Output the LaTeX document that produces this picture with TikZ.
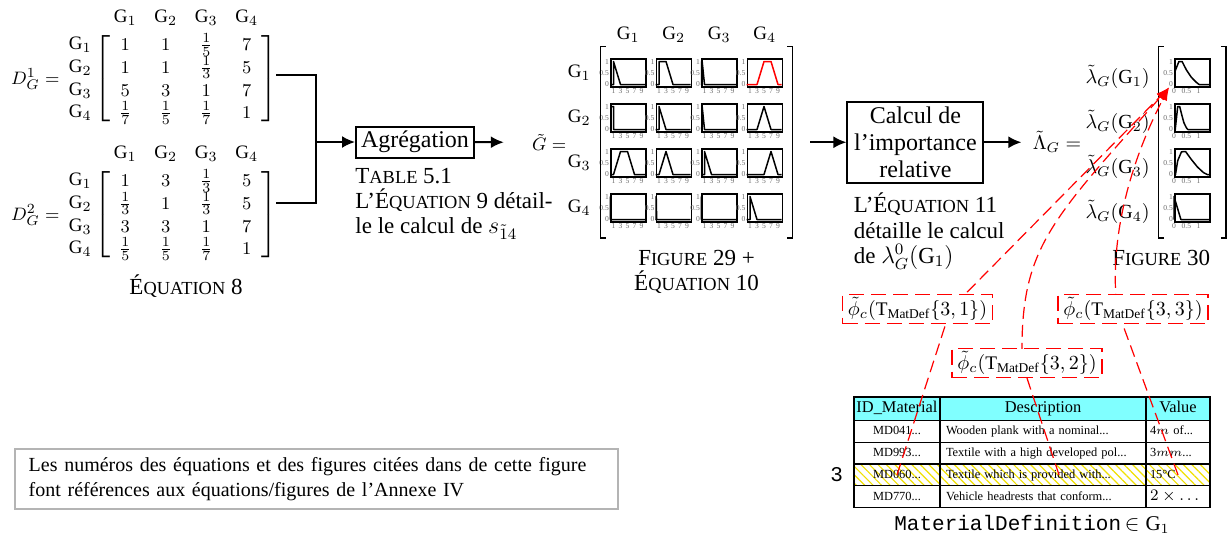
\documentclass[tikz,border=0pt]{standalone}
\usepackage{amsmath}
\usepackage{fontspec}
\setmainfont{Liberation Serif}
\setmonofont{Liberation Mono}
\usetikzlibrary{positioning,arrows.meta,matrix,fit,patterns.meta}
\definecolor{cyantab}{HTML}{80FFFF}
\definecolor{grisnote}{HTML}{B4B4B4}
\definecolor{grisgrad}{HTML}{6E6E6E}
\definecolor{jaunehach}{HTML}{F0E000}
\pgfdeclarelayer{avant}
\pgfsetlayers{main,avant}
\newcommand{\pcap}[1]{\scalebox{0.8}{#1}}
% petit graphe flou : [couleur]{nom}{coin haut gauche}{unite x}{graduations x}{points}
\newcommand{\minifloue}[6][black]{%
  \node[cadre, anchor=north west] (#2) at (#3) {};
  \begin{scope}[shift={([yshift=1.5pt]#2.south west)}, x=#4, y=11.5pt]
    \draw[courbe, draw=#1] plot coordinates {#6};
    \foreach \gx in {#5} {\node[grad, anchor=north] at (\gx,-0.13) {\gx};}
    \foreach \gy in {0,0.5,1} {\node[grad, anchor=east] at (0,\gy) {\gy};}
  \end{scope}}

\begin{document}
\begin{tikzpicture}[
      x=0.5pt, y=-0.5pt,
      font=\fontsize{11.5}{12.5}\selectfont,
      boite/.style={draw, line width=1pt, inner sep=2pt, align=center,
                    font=\fontsize{12}{13.3}\selectfont},
      f/.style={-{Latex[length=6.5pt,width=6pt]}, line width=1pt},
      trait/.style={line width=1pt},
      etiq/.style={inner sep=1pt, font=\fontsize{9.5}{11}\selectfont},
      legende/.style={inner sep=0pt, align=left, font=\fontsize{11.5}{12.6}\selectfont},
      every left delimiter/.style={xshift=4pt},
      every right delimiter/.style={xshift=-4pt},
      matd/.style={matrix of math nodes, left delimiter={[}, right delimiter={]},
                   inner sep=0pt, font=\fontsize{9.5}{11}\selectfont,
                   column sep=0pt, row sep=0pt,
                   nodes={minimum width=20.25pt, minimum height=11.35pt,
                          inner sep=0pt, anchor=center}},
      cadre/.style={draw, line width=0.75pt, minimum width=17.5pt, minimum height=14pt,
                    inner sep=0pt},
      courbe/.style={line width=0.75pt, line join=round},
      grad/.style={inner sep=0.4pt, text=grisgrad, font=\fontsize{3.8}{4}\selectfont},
      crochet/.style={line width=0.6pt},
      cellule/.style={draw, line width=0.6pt, minimum height=10.9pt, inner ysep=0pt,
                      outer sep=0pt, text height=5pt, text depth=1.5pt,
                      anchor=center, font=\fontsize{6.2}{7}\selectfont},
      entete/.style={fill=cyantab, align=center, minimum height=11.7pt,
                     text height=6pt, text depth=2pt, font=\fontsize{8.2}{9}\selectfont},
      hachure/.style={pattern={Lines[angle=-45, distance=3pt, line width=0.6pt]},
                      pattern color=jaunehach},
      phi/.style={draw=red, fill=white, line width=0.6pt, dash pattern=on 7.5pt off 3.5pt,
                  minimum width=75pt, minimum height=14.5pt, inner sep=1pt,
                  font=\fontsize{9.6}{10}\selectfont},
      lien/.style={draw=red, line width=0.6pt, dash pattern=on 6pt off 3pt,
                   -{Latex[length=6.5pt,width=4.5pt]}},
      note/.style={draw=grisnote, line width=0.75pt, align=left, text width=287.5pt,
                   minimum height=30pt, inner xsep=7pt, font=\fontsize{10}{12.5}\selectfont},
    ]
    \useasboundingbox (0,0) rectangle (1231,537);

    % =============== MATRICES DE COMPARAISON ==============================
    \matrix (d1) [matd] at (186,79) {
      1 & 1 & \frac15 & 7 \\
      1 & 1 & \frac13 & 5 \\
      5 & 3 & 1 & 7 \\
      \frac17 & \frac15 & \frac17 & 1 \\
    };
    \matrix (d2) [matd] at (186,215) {
      1 & 3 & \frac13 & 5 \\
      \frac13 & 1 & \frac13 & 5 \\
      3 & 3 & 1 & 7 \\
      \frac15 & \frac15 & \frac17 & 1 \\
    };
    \foreach \m in {d1,d2} {
      \foreach \i in {1,...,4} {
        \node[etiq] at ([yshift=13.5pt]\m-1-\i.center) {$\mathrm{G}_\i$};
        \node[etiq] at ([xshift=-22.5pt]\m-\i-1.center) {$\mathrm{G}_\i$};
      }
    }
    \node[etiq, anchor=east] (nd1) at ([xshift=-21.4pt]d1.west) {$D_G^1 =$};
    \node[etiq, anchor=east] (nd2) at ([xshift=-21.4pt]d2.west) {$D_G^2 =$};
    \node[legende, below=7pt of d2] (eq8) {É\pcap{QUATION} 8};

    % =============== AGREGATION ==========================================
    \node[boite, minimum width=59pt, minimum height=15.5pt] (agreg) at (415,142) {Agrégation};
    \node[legende, anchor=north west] (legagreg) at ([yshift=-4.5pt]agreg.south west)
      {T\pcap{ABLE} 5.1\\L’É\pcap{QUATION} 9 détail-\\le le calcul de $s_{\tilde{1}4}$};
    \coordinate[left=19.5pt of agreg.west] (jonc);
    \draw[trait] ([shift={(4.5pt,2pt)}]d1.east) -| (jonc) |- ([shift={(4.5pt,6pt)}]d2.east);
    \draw[f] (jonc) -- (agreg);

    % =============== MATRICE FLOUE AGREGEE ===============================
    \minifloue{g11}{610,58}{1.75pt}{1,3,5,7,9}{(0,0) (1,0) (1,1) (3,0) (10,0)}
    \minifloue{g12}{655.5,58}{1.75pt}{1,3,5,7,9}{(0,0) (1,0) (1,1) (3,1) (5,0) (10,0)}
    \minifloue{g13}{701,58}{1.75pt}{1,3,5,7,9}{(0,0) (0.14,0) (0.2,1) (0.33,1) (1,0) (10,0)}
    \minifloue[red]{g14}{746.5,58}{1.75pt}{1,3,5,7,9}{(0,0) (3,0) (5,1) (7,1) (9,0) (10,0)}
    \minifloue{g21}{610,103}{1.75pt}{1,3,5,7,9}{(0,0) (0.2,0) (0.33,1) (1,1) (1,0) (10,0)}
    \minifloue{g22}{655.5,103}{1.75pt}{1,3,5,7,9}{(0,0) (1,0) (1,1) (3,0) (10,0)}
    \minifloue{g23}{701,103}{1.75pt}{1,3,5,7,9}{(0,0) (0.2,0) (0.33,1) (1,0) (10,0)}
    \minifloue{g24}{746.5,103}{1.75pt}{1,3,5,7,9}{(0,0) (3,0) (5,1) (7,0) (10,0)}
    \minifloue{g31}{610,148}{1.75pt}{1,3,5,7,9}{(0,0) (1,0) (3,1) (5,1) (7,0) (10,0)}
    \minifloue{g32}{655.5,148}{1.75pt}{1,3,5,7,9}{(0,0) (1,0) (3,1) (5,0) (10,0)}
    \minifloue{g33}{701,148}{1.75pt}{1,3,5,7,9}{(0,0) (1,0) (1,1) (3,0) (10,0)}
    \minifloue{g34}{746.5,148}{1.75pt}{1,3,5,7,9}{(0,0) (5,0) (7,1) (9,0) (10,0)}
    \minifloue{g41}{610,193}{1.75pt}{1,3,5,7,9}{(0,0) (0.11,0) (0.14,1) (0.2,1) (0.33,0) (10,0)}
    \minifloue{g42}{655.5,193}{1.75pt}{1,3,5,7,9}{(0,0) (0.14,0) (0.2,1) (0.33,0) (10,0)}
    \minifloue{g43}{701,193}{1.75pt}{1,3,5,7,9}{(0,0) (0.11,0) (0.14,1) (0.2,0) (10,0)}
    \minifloue{g44}{746.5,193}{1.75pt}{1,3,5,7,9}{(0,0) (1,0) (1,1) (3,0) (10,0)}

    \node[fit=(g11)(g44), inner xsep=4.5pt, inner ysep=6.5pt, yshift=-1pt] (gmat) {};
    \draw[crochet] ([xshift=2.5pt]gmat.north west) -- (gmat.north west)
      -- (gmat.south west) -- ([xshift=2.5pt]gmat.south west);
    \draw[crochet] ([xshift=-2.5pt]gmat.north east) -- (gmat.north east)
      -- (gmat.south east) -- ([xshift=-2.5pt]gmat.south east);
    \foreach \i in {1,...,4} {
      \node[etiq] at ([yshift=11.5pt]g1\i.north) {$\mathrm{G}_\i$};
      \node[etiq, anchor=east] at ([xshift=-8.5pt]g\i1.west) {$\mathrm{G}_\i$};
    }
    \node[etiq, left=16pt of gmat] (gt) {$\tilde{G} =$};
    \draw[f] (agreg) -- ([xshift=-13pt]gt.west);
    \node[legende, align=center, below=6pt of gmat] (fig29)
      {F\pcap{IGURE} 29 +\\É\pcap{QUATION} 10};

    % =============== IMPORTANCE RELATIVE =================================
    \node[boite, minimum width=68pt, minimum height=40.5pt, right=27pt of gmat] (calc)
      {Calcul de\\l’importance\\relative};
    \draw[f] ([xshift=9pt]gmat.east) -- (calc);
    \node[legende, anchor=north west] (legcalc) at ([shift={(3.5pt,-4.5pt)}]calc.south west)
      {L’É\pcap{QUATION} 11\\détaille le calcul\\de $\lambda^0_G(\mathrm{G}_1)$};
    \node[etiq, font=\fontsize{10}{11}\selectfont, right=23pt of calc] (lt) {$\tilde{\Lambda}_G =$};
    \draw[f] (calc) -- ([xshift=-4.5pt]lt.west);

    \minifloue{lp1}{1174,58}{12.3pt}{0,0.5,1}{(0,0) (0.03,0) (0.05,0.6) (0.2,1) (0.33,1)
      (0.5,0.64) (0.7,0.32) (0.9,0.1) (1.02,0) (1.42,0)}
    \minifloue{lp2}{1174,103}{12.3pt}{0,0.5,1}{(0,0) (0.05,0) (0.15,1) (0.23,1) (0.3,0.7)
      (0.4,0.3) (0.5,0.08) (0.56,0) (1.42,0)}
    \minifloue{lp3}{1174,148}{12.3pt}{0,0.5,1}{(0,0) (0.06,0) (0.15,0.6) (0.3,0.98) (0.4,1)
      (0.47,1) (0.7,0.66) (0.95,0.33) (1.2,0.08) (1.35,0) (1.42,0)}
    \minifloue{lp4}{1174,193}{12.3pt}{0,0.5,1}{(0,0) (0,1) (0.28,0) (1.42,0)}

    \node[fit=(lp1)(lp4), inner xsep=7.5pt, inner ysep=6.5pt, yshift=-1pt] (lmat) {};
    \draw[crochet] ([xshift=2.5pt]lmat.north west) -- (lmat.north west)
      -- (lmat.south west) -- ([xshift=2.5pt]lmat.south west);
    \draw[crochet] ([xshift=-2.5pt]lmat.north east) -- (lmat.north east)
      -- (lmat.south east) -- ([xshift=-2.5pt]lmat.south east);
    \foreach \i in {1,...,4} {
      \node[etiq, font=\fontsize{10}{11}\selectfont, anchor=east]
        at ([shift={(-11pt,-2pt)}]lp\i.west) {$\tilde{\lambda}_G(\mathrm{G}_\i)$};
    }
    \node[legende, below=6pt of lmat, xshift=-15.5pt] (fig30) {F\pcap{IGURE} 30};

    % =============== TABLE MaterialDefinition ============================
    \matrix (tab) [matrix of nodes, anchor=north west, inner sep=0pt,
        column sep=-0.6pt, row sep=-0.6pt,
        nodes={cellule},
        column 1/.style={nodes={text width=41pt, inner xsep=1pt, align=center}},
        column 2/.style={nodes={text width=97pt, inner xsep=3pt, align=left}},
        column 3/.style={nodes={text width=28pt, inner xsep=2pt, align=left}},
        row 1/.style={nodes={entete}},
        row 4/.style={nodes={hachure}}]
      at (853,396) {
      ID\_Material & Description & Value \\
      MD041... & Wooden plank with a nominal... & 4$m$ of... \\
      MD993... & Textile with a high developed pol... & 3$mm$... \\
      MD060... & Textile which is provided with... & 15°C \\
      MD770... & Vehicle headrests that conform... & {\fontsize{8.5}{9}\selectfont$2\times\ldots$} \\
    };
    \node[font=\ttfamily\fontsize{10.5}{11}\selectfont, left=2pt of tab-4-1] (ligne) {3};
    \node[font=\fontsize{10.5}{11}\selectfont, inner sep=1pt, below=2pt of tab] (nomtab)
      {\texttt{MaterialDefinition}$\,\in \mathrm{G}_1$};

    % =============== CONTRIBUTIONS (en rouge) ============================
    \begin{pgfonlayer}{avant}
      \node[phi] (phiA) at (917.5,309) {$\tilde{\phi}_c(\mathrm{T}_{\mathrm{MatDef}}\{3,1\})$};
      \node[phi] (phiB) at (1027,363)  {$\tilde{\phi}_c(\mathrm{T}_{\mathrm{MatDef}}\{3,2\})$};
      \node[phi] (phiC) at (1133,309)  {$\tilde{\phi}_c(\mathrm{T}_{\mathrm{MatDef}}\{3,3\})$};
    \end{pgfonlayer}
    \coordinate (cible) at ([xshift=-2.5pt]lp1.south west);
    \draw[lien] (tab-4-1.center) -- ([xshift=16.5pt]phiA.center) -- (cible);
    \draw[lien] ([xshift=8pt]tab-4-2.center) -- ([xshift=-2.5pt]phiB.center)
      .. controls +(-2,-113) and +(-123,138) .. (cible);
    \draw[lien] (tab-4-3.center) -- ([xshift=-8pt]phiC.center)
      .. controls +(-9,-79) and +(-33,63) .. (cible);

    % =============== NOTE ================================================
    \node[note, anchor=north west] (note) at (14,448)
      {Les numéros des équations et des figures citées dans de cette figure\\
       font références aux équations/figures de l’Annexe IV};
  \end{tikzpicture}
\end{document}
